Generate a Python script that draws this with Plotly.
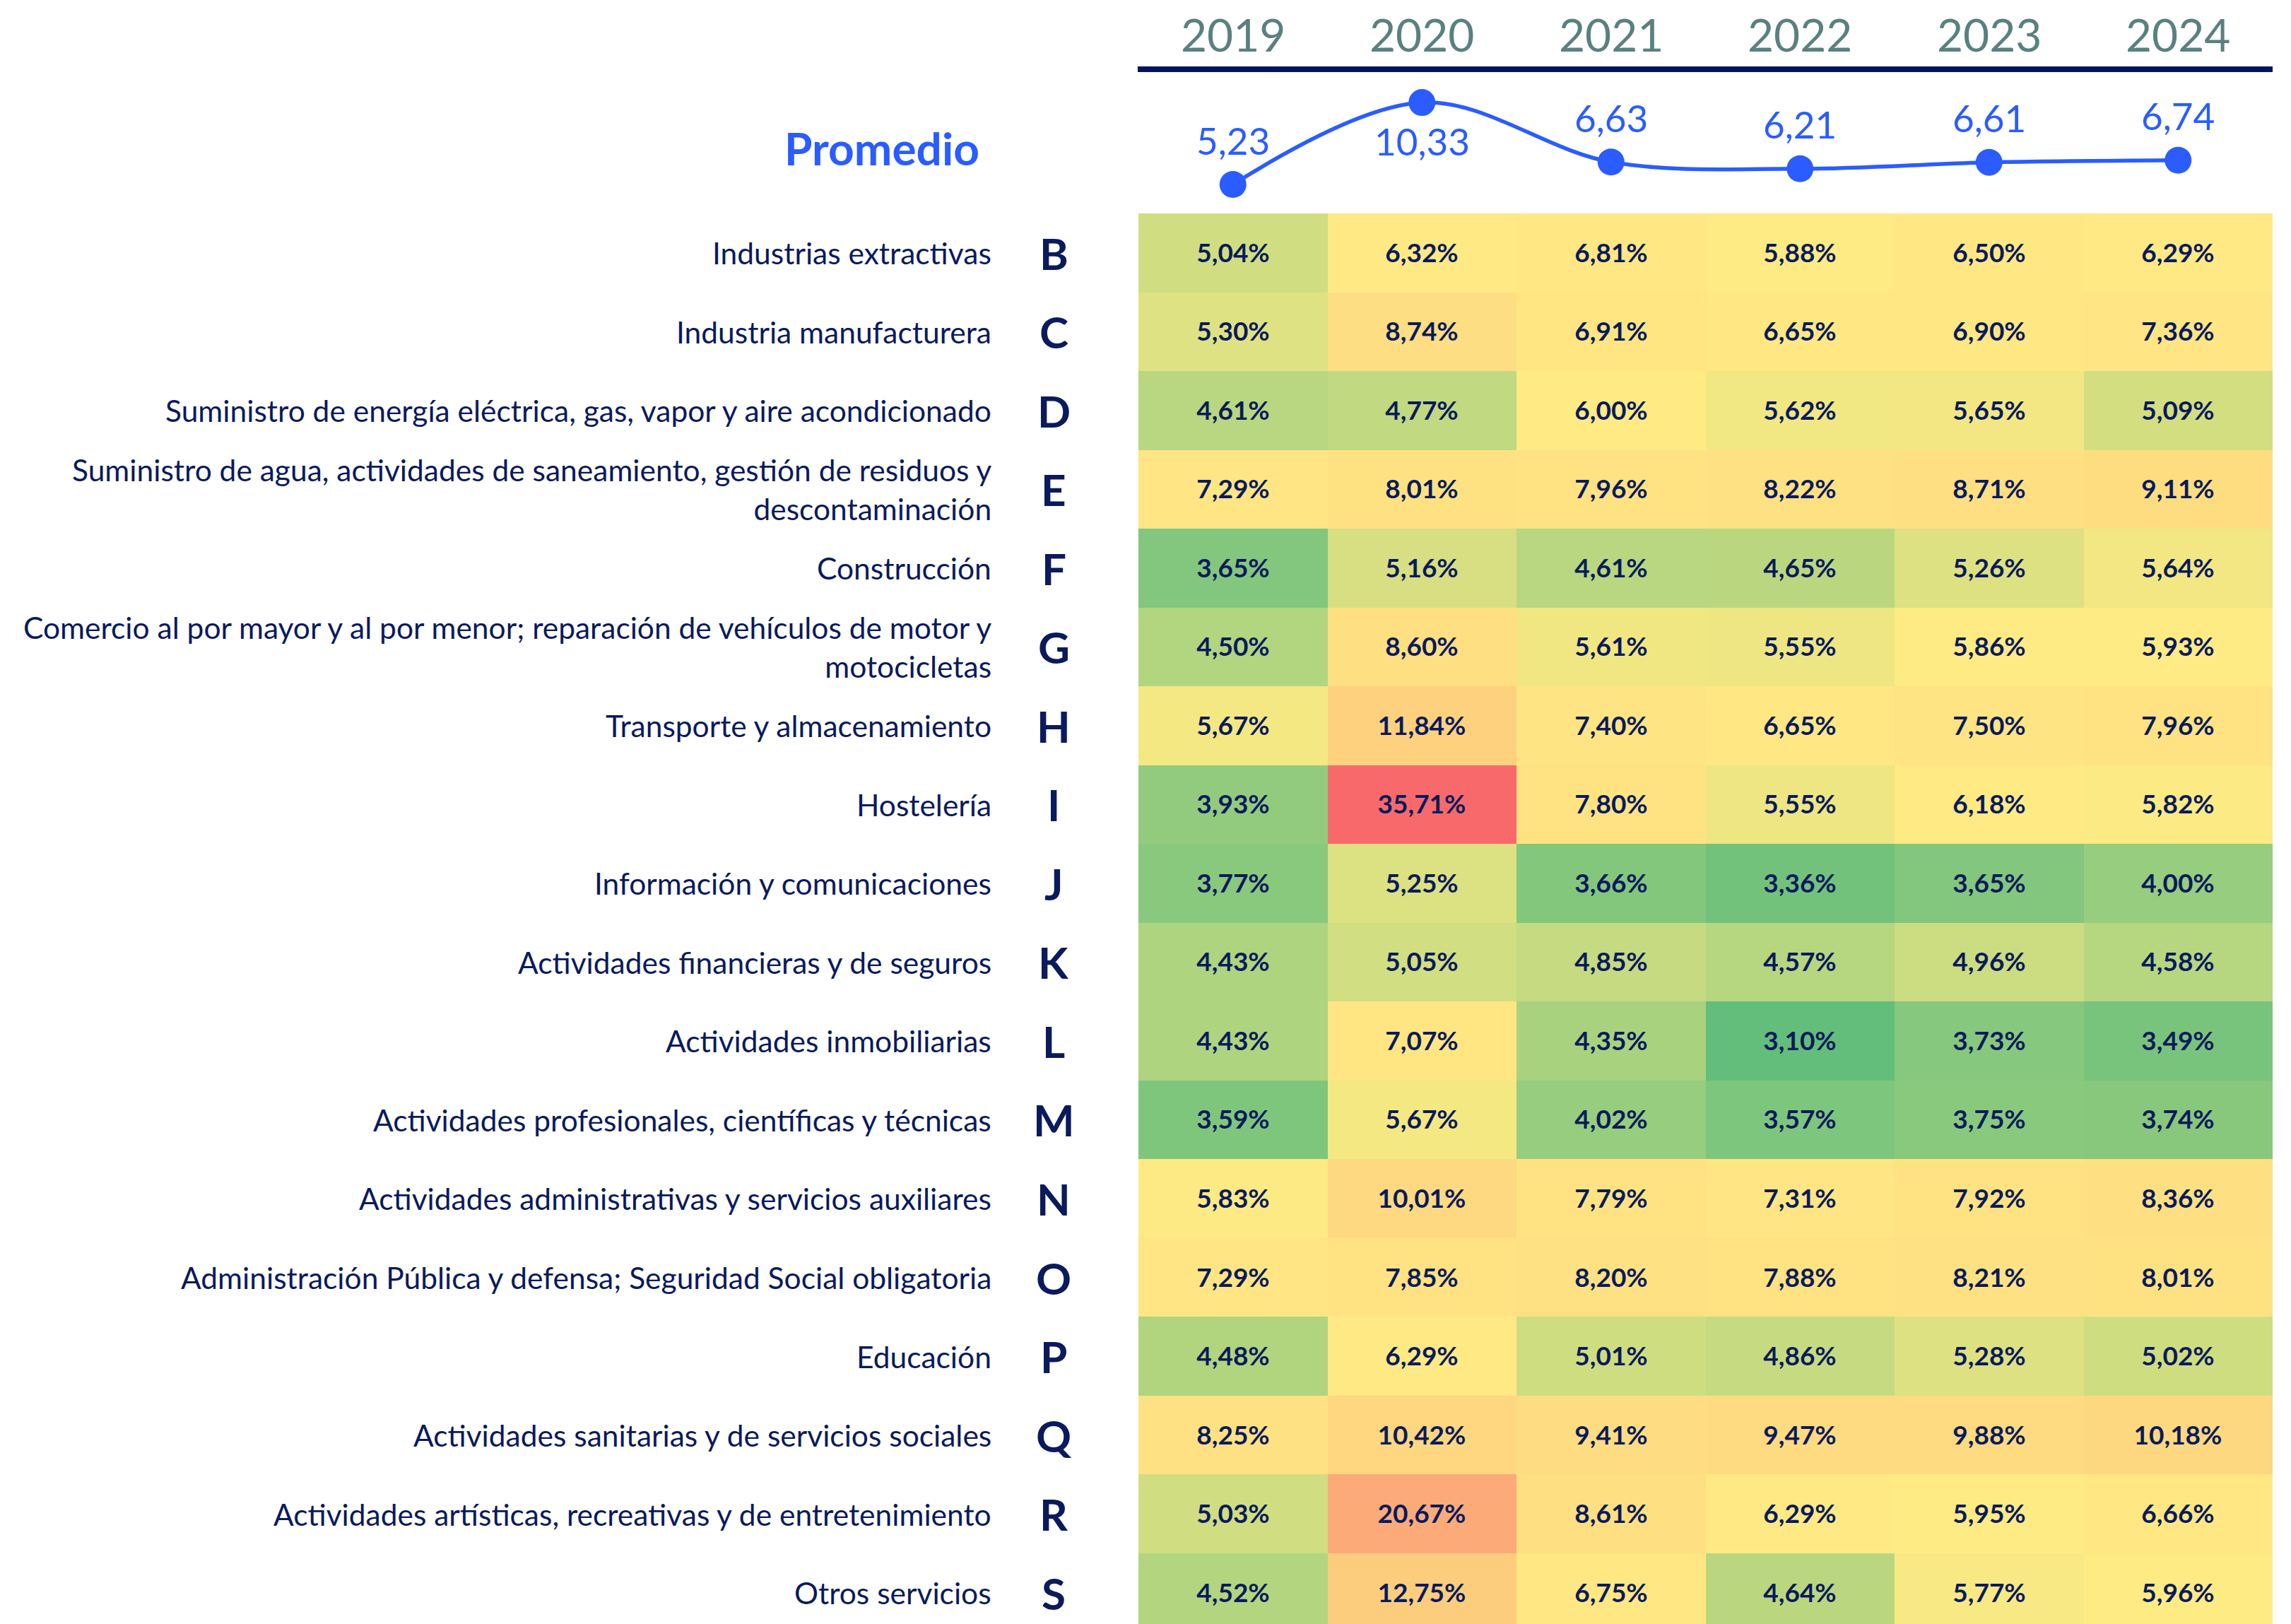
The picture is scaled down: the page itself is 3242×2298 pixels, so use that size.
import numpy as np
import plotly.graph_objects as go

W, H = 3242, 2298

years = ["2019", "2020", "2021", "2022", "2023", "2024"]
codes = ["B", "C", "D", "E", "F", "G", "H", "I", "J", "K", "L", "M", "N", "O", "P", "Q", "R", "S"]
sectors = [
    "Industrias extractivas",
    "Industria manufacturera",
    "Suministro de energía eléctrica, gas, vapor y aire acondicionado",
    "Suministro de agua, actividades de saneamiento, gestión de residuos y<br>descontaminación",
    "Construcción",
    "Comercio al por mayor y al por menor; reparación de vehículos de motor y<br>motocicletas",
    "Transporte y almacenamiento",
    "Hostelería",
    "Información y comunicaciones",
    "Actividades financieras y de seguros",
    "Actividades inmobiliarias",
    "Actividades profesionales, científicas y técnicas",
    "Actividades administrativas y servicios auxiliares",
    "Administración Pública y defensa; Seguridad Social obligatoria",
    "Educación",
    "Actividades sanitarias y de servicios sociales",
    "Actividades artísticas, recreativas y de entretenimiento",
    "Otros servicios",
]
tasas = [
    [5.04, 6.32, 6.81, 5.88, 6.50, 6.29],
    [5.30, 8.74, 6.91, 6.65, 6.90, 7.36],
    [4.61, 4.77, 6.00, 5.62, 5.65, 5.09],
    [7.29, 8.01, 7.96, 8.22, 8.71, 9.11],
    [3.65, 5.16, 4.61, 4.65, 5.26, 5.64],
    [4.50, 8.60, 5.61, 5.55, 5.86, 5.93],
    [5.67, 11.84, 7.40, 6.65, 7.50, 7.96],
    [3.93, 35.71, 7.80, 5.55, 6.18, 5.82],
    [3.77, 5.25, 3.66, 3.36, 3.65, 4.00],
    [4.43, 5.05, 4.85, 4.57, 4.96, 4.58],
    [4.43, 7.07, 4.35, 3.10, 3.73, 3.49],
    [3.59, 5.67, 4.02, 3.57, 3.75, 3.74],
    [5.83, 10.01, 7.79, 7.31, 7.92, 8.36],
    [7.29, 7.85, 8.20, 7.88, 8.21, 8.01],
    [4.48, 6.29, 5.01, 4.86, 5.28, 5.02],
    [8.25, 10.42, 9.41, 9.47, 9.88, 10.18],
    [5.03, 20.67, 8.61, 6.29, 5.95, 6.66],
    [4.52, 12.75, 6.75, 4.64, 5.77, 5.96],
]
promedio = [5.23, 10.33, 6.63, 6.21, 6.61, 6.74]

NAVY = "#0a1a5c"
BLUE = "#2a5cff"
YEARC = "#5a807f"

OFF = 8  # page body margin

def px(x):
    return (x - OFF) / W

def py(y):
    return 1 - (y - OFF) / H

z = np.array(tasas)
zmin, zmax, zmed = z.min(), z.max(), float(np.median(z))
mid = (zmed - zmin) / (zmax - zmin)
colorscale = [[0, "#63BE7B"], [mid, "#FFEB84"], [1, "#F8696B"]]
cell_text = [[f"{v:.2f}".replace(".", ",") + "%" for v in row] for row in tasas]

xdom = [px(1611), px(3216)]

fig = go.Figure()
fig.add_trace(go.Heatmap(
    z=z, x=list(range(len(years))), y=list(range(len(codes))),
    zmin=zmin, zmax=zmax, colorscale=colorscale, showscale=False,
    text=cell_text, texttemplate="%{text}",
    textfont=dict(family="Lato", size=37, color=NAVY, weight=700),
    xgap=0, ygap=0, hoverinfo="skip",
))

fig.add_trace(go.Scatter(
    x=list(range(len(years))), y=promedio,
    xaxis="x2", yaxis="y2",
    mode="lines+markers",
    line=dict(color=BLUE, width=5.5, shape="spline"),
    marker=dict(color=BLUE, size=38),
    cliponaxis=False, hoverinfo="skip",
))

annotations = []
for i, v in enumerate(promedio):
    below = v == max(promedio)
    annotations.append(dict(
        x=i, xref="x2", y=v, yref="y2", text=f"{v:.2f}".replace(".", ","),
        showarrow=False, xanchor="center", yanchor="middle",
        yshift=-54 if below else 63,
        font=dict(family="Lato", size=53, color=BLUE),
    ))
for i, y in enumerate(years):
    annotations.append(dict(
        x=i, xref="x2", y=py(48), yref="paper", text=y, showarrow=False,
        xanchor="center", yanchor="middle",
        font=dict(family="Lato", size=64, color=YEARC),
    ))
for i, (c, s) in enumerate(zip(codes, sectors)):
    annotations.append(dict(
        x=px(1405), xref="paper", y=i, yref="y", text=s, showarrow=False,
        xanchor="right", yanchor="middle", align="right",
        font=dict(family="Lato", size=42.5, color=NAVY),
    ))
    annotations.append(dict(
        x=px(1491), xref="paper", y=i, yref="y", text=f"<b>{c}</b>", showarrow=False,
        xanchor="center", yanchor="middle",
        font=dict(family="Lato", size=62, color=NAVY),
    ))
annotations.append(dict(
    x=px(1388), xref="paper", y=py(209), yref="paper", text="<b>Promedio</b>",
    showarrow=False, xanchor="right", yanchor="middle",
    font=dict(family="Lato", size=64, color=BLUE),
))

shapes = [dict(type="line", xref="paper", yref="paper",
               x0=px(1610), x1=px(3216), y0=py(98), y1=py(98),
               line=dict(color="#001560", width=8))]

fig.update_layout(
    width=W, height=H,
    margin=dict(l=0, r=0, t=0, b=0),
    paper_bgcolor="white", plot_bgcolor="white",
    showlegend=False,
    xaxis=dict(domain=xdom, range=[-0.5, 5.5], visible=False, fixedrange=True),
    yaxis=dict(domain=[0, py(302)], range=[17.47, -0.5], visible=False, fixedrange=True),
    xaxis2=dict(domain=xdom, range=[-0.5, 5.5], anchor="y2", visible=False),
    yaxis2=dict(domain=[py(302), py(98)], range=[3.43, 12.40], anchor="x2", visible=False),
    annotations=annotations,
    shapes=shapes,
)

fig.write_html("out.html")
